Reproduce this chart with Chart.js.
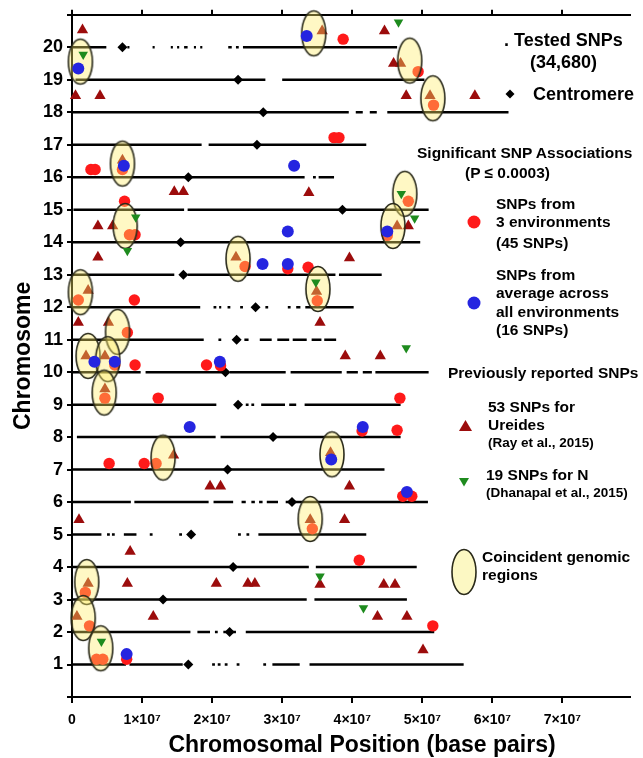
<!DOCTYPE html>
<html lang="en">
<head>
<meta charset="UTF-8">
<title>Significant SNP associations by chromosome</title>
<script src="https://cdn.jsdelivr.net/npm/chart.js"></script>
<style>
  body { margin: 0; background: #fff; }
  .wrap { position: relative; width: 643px; height: 758px; font-family: "Liberation Sans", Arial, sans-serif; font-weight: bold; color: #000; }
  #snpChart { position: absolute; left: 0; top: 0; }
  .lg { position: absolute; white-space: nowrap; line-height: 1; }
  .f18 { font-size: 18px; }
  .f15 { font-size: 15.5px; }
  .f13 { font-size: 13.5px; }
  .xtitle { position: absolute; left: 0; width: 724px; top: 733px; text-align: center; font-size: 23px; line-height: 1; white-space: nowrap; }
  svg.keys { position: absolute; left: 0; top: 0; pointer-events: none; }
</style>
</head>
<body>
<div class="wrap">
  <canvas id="snpChart" width="643" height="758"></canvas>

  <div class="xtitle">Chromosomal Position (base pairs)</div>

  <div class="lg f18" style="left:504px; top:31px;">. Tested SNPs</div>
  <div class="lg f18" style="left:530px; top:53px;">(34,680)</div>
  <div class="lg f18" style="left:533px; top:85px;">Centromere</div>

  <div class="lg f15" style="left:417px; top:145px;">Significant SNP Associations</div>
  <div class="lg f15" style="left:465px; top:165px;">(P &le; 0.0003)</div>

  <div class="lg f15" style="left:496px; top:196px;">SNPs from</div>
  <div class="lg f15" style="left:496px; top:214px;">3 environments</div>
  <div class="lg f15" style="left:496px; top:235px;">(45 SNPs)</div>

  <div class="lg f15" style="left:496px; top:267px;">SNPs from</div>
  <div class="lg f15" style="left:496px; top:285px;">average across</div>
  <div class="lg f15" style="left:496px; top:304px;">all environments</div>
  <div class="lg f15" style="left:496px; top:322px;">(16 SNPs)</div>

  <div class="lg f15" style="left:448px; top:365px;">Previously reported SNPs</div>

  <div class="lg f15" style="left:488px; top:399px;">53 SNPs for</div>
  <div class="lg f15" style="left:488px; top:417px;">Ureides</div>
  <div class="lg f13" style="left:488px; top:436px;">(Ray et al., 2015)</div>

  <div class="lg f15" style="left:486px; top:467px;">19 SNPs for N</div>
  <div class="lg f13" style="left:486px; top:486px;">(Dhanapal et al., 2015)</div>

  <div class="lg f15" style="left:482px; top:549px;">Coincident genomic</div>
  <div class="lg f15" style="left:482px; top:567px;">regions</div>

  <svg class="keys" width="643" height="758">
    <polygon points="510,89.5 514.5,94 510,98.5 505.5,94" fill="#000"/>
    <circle cx="474" cy="222" r="6.5" fill="#ff1a1a"/>
    <circle cx="474" cy="303" r="6.5" fill="#2525e0"/>
    <polygon points="465.5,420 472,431 459,431" fill="#9c0c0c"/>
    <polygon points="459,478 469,478 464,486.5" fill="#1e8b1e"/>
    <ellipse cx="464" cy="572" rx="12" ry="22.5" fill="#fcf8c3" stroke="#2a2a1a" stroke-width="1.6"/>
  </svg>
</div>

<script>
  // positions in Mb, y = chromosome (marks sit slightly above their chromosome line)
  const chromosomes = [1, 2, 3, 4, 5, 6, 7, 8, 9, 10, 11, 12, 13, 14, 15, 16, 17, 18, 19, 20];

  // stretches covered by tested SNPs, per chromosome (Mb)
  const testedSegments = [
    [[0, 7.7], [8.2, 15.8], [20, 20.4], [20.8, 21.2], [21.8, 22.2], [23.5, 23.9], [27.3, 27.7], [28.6, 32.5], [33.9, 55.9]],
    [[0, 16.9], [17.9, 19.7], [20.4, 20.8], [21.6, 22.2], [22.8, 23.4], [24.8, 51.7]],
    [[0, 33.5], [34.6, 47.8]],
    [[0, 33.8], [34.8, 49.2]],
    [[0, 4.2], [5, 5.4], [5.7, 6.1], [7.4, 9.2], [11.1, 11.5], [15.3, 15.7], [23.7, 24.1], [24.9, 25.3], [26.6, 42]],
    [[0, 8.4], [8.9, 19.5], [20.2, 23], [24.2, 24.8], [25.6, 26.1], [26.7, 27.2], [27.8, 29.4], [30.5, 50.8]],
    [[0, 44.6]],
    [[0.7, 20.5], [21.2, 46.9]],
    [[0, 20.6], [24.8, 25.2], [25.6, 26], [27, 30.4], [31, 32], [33.2, 46.9]],
    [[0, 9.8], [10.5, 21.5], [22.5, 30.5], [31.2, 38.5], [39.2, 40.8], [41.5, 42.8], [43.3, 50.9]],
    [[0, 18.8], [20.9, 21.3], [24.6, 25.2], [26.8, 28.5], [29.3, 31], [31.5, 33.5], [34.2, 35.6], [36, 37.7]],
    [[0, 18.3], [20.2, 20.6], [21, 21.3], [22.2, 22.6], [24, 24.4], [27.6, 28], [30.8, 31.2], [32, 32.6], [33.3, 40.2]],
    [[0, 14.6], [16.5, 37.6], [38.1, 44.2]],
    [[0, 49.7]],
    [[0.2, 16], [16.5, 50.9]],
    [[0, 33.2], [34.4, 34.8], [35.2, 37.4]],
    [[0, 18.5], [19.5, 42]],
    [[0, 39.5], [40.5, 41.5], [42.5, 43.5], [45, 62.3]],
    [[0.5, 27.6], [30, 50.3]],
    [[0, 4.9], [7.9, 8.2], [11.5, 11.8], [14.1, 14.4], [15, 15.3], [16, 16.5], [17.4, 17.7], [18.3, 18.6], [22.3, 22.8], [23.4, 23.8], [24.4, 46.4]]
  ];

  const centromereMb = [16.6, 22.5, 13.0, 23.0, 17.0, 31.4, 22.2, 28.7, 23.7, 21.9, 23.5, 26.2, 15.9, 15.5, 38.6, 16.6, 26.4, 27.3, 23.7, 7.2];

  // SNPs from 3 environments [Mb, y]
  const env3Snps = [
    [2.7, 16.24], [3.3, 16.24], [7.2, 16.24], [7.5, 15.26], [8.2, 14.23], [9.0, 14.23], [24.7, 13.25], [30.8, 13.18],
    [0.9, 12.22], [8.9, 12.22], [7.9, 11.22], [6.1, 10.22], [9.0, 10.22], [19.2, 10.22], [21.2, 10.2], [4.7, 9.2],
    [12.3, 9.2], [5.3, 7.19], [10.3, 7.19], [12.0, 7.19], [1.9, 3.22], [2.5, 2.19], [3.5, 1.16], [4.4, 1.16], [7.8, 1.16],
    [38.7, 20.25], [49.4, 19.25], [51.6, 18.22], [37.4, 17.22], [38.1, 17.22], [48.0, 15.26], [45.0, 14.21], [33.7, 13.23],
    [35.0, 12.2], [46.8, 9.2], [41.4, 8.19], [46.4, 8.21], [47.2, 6.18], [48.5, 6.18], [34.3, 5.18], [41.0, 4.21], [51.5, 2.19]
  ];

  // SNPs from the average across all environments [Mb, y]
  const avgSnps = [
    [0.9, 19.35], [7.4, 16.35], [31.7, 16.35], [30.8, 14.33], [27.2, 13.33], [30.8, 13.33], [33.5, 20.35], [45.0, 14.33],
    [3.2, 10.32], [6.1, 10.32], [21.1, 10.32], [16.8, 8.31], [7.8, 1.32], [41.5, 8.31], [37.0, 7.31], [47.8, 6.31]
  ];

  // previously reported: ureides (Ray et al., 2015) [Mb, y]
  const ureideSnps = [
    [1.5, 20.53], [0.5, 18.51], [4.0, 18.51], [7.2, 16.52], [14.6, 15.55], [15.9, 15.55], [3.7, 14.5], [5.8, 14.5],
    [3.7, 13.54], [23.4, 13.54], [2.3, 12.51], [0.9, 11.53], [5.2, 11.53], [2.0, 10.5], [4.7, 10.5], [4.7, 9.48],
    [14.5, 7.44], [19.7, 6.49], [21.2, 6.49], [1.0, 5.46], [8.3, 4.48], [2.3, 3.49], [7.9, 3.49], [20.6, 3.49],
    [25.1, 3.49], [26.1, 3.49], [0.7, 2.48], [11.6, 2.48], [35.7, 20.5], [44.6, 20.5], [45.9, 19.5], [46.9, 19.5],
    [47.7, 18.51], [51.1, 18.51], [57.5, 18.51], [33.8, 15.52], [46.4, 14.5], [48.0, 14.5], [39.6, 13.51], [34.9, 12.48],
    [35.4, 11.53], [39.0, 10.5], [44.0, 10.5], [36.9, 7.52], [39.6, 6.49], [34.0, 5.46], [38.9, 5.46], [35.4, 3.46],
    [44.5, 3.46], [46.1, 3.46], [43.6, 2.48], [47.8, 2.48], [50.1, 1.45]
  ];

  // previously reported: N (Dhanapal et al., 2015) [Mb, y]
  const nitrogenSnps = [
    [1.6, 19.78], [9.1, 14.77], [7.9, 13.74], [4.2, 1.71], [46.6, 20.77], [47.0, 15.49], [48.9, 14.74], [34.8, 12.77],
    [47.7, 10.74], [35.4, 3.72], [41.6, 2.74]
  ];

  // coincident genomic regions, ellipse centres [Mb, y]
  const coincidentRegions = [
    [1.2, 19.56], [34.5, 20.43], [48.2, 19.59], [51.5, 18.43], [7.2, 16.42], [7.6, 14.5], [47.5, 15.49], [45.8, 14.5],
    [23.7, 13.49], [1.2, 12.46], [35.1, 12.56], [6.5, 11.24], [2.3, 10.5], [5.1, 10.4], [4.6, 9.37], [13.0, 7.37],
    [37.1, 7.47], [34.0, 5.48], [2.1, 3.54], [1.6, 2.43], [4.1, 1.5]
  ];

  const xTicks = [0, 1e7, 2e7, 3e7, 4e7, 5e7, 6e7, 7e7];

  const MB = 1e6;
  const X_MAX = 7.964e7;
  const FONT = '"Liberation Sans", Arial, sans-serif';

  const toPoints = arr => arr.map(p => ({ x: p[0] * MB, y: p[1] }));

  const linePoints = [];
  testedSegments.forEach((segs, i) => {
    segs.forEach(s => {
      linePoints.push({ x: s[0] * MB, y: chromosomes[i] });
      linePoints.push({ x: s[1] * MB, y: chromosomes[i] });
      linePoints.push({ x: s[1] * MB, y: null });
    });
  });

  const centromerePoints = centromereMb.map((c, i) => ({ x: c * MB, y: chromosomes[i] }));

  function ellipseImage() {
    const c = document.createElement('canvas');
    c.width = 28;
    c.height = 50;
    const g = c.getContext('2d');
    g.beginPath();
    g.ellipse(14, 25, 12, 22.5, 0, 0, 2 * Math.PI);
    g.fillStyle = 'rgba(255,237,102,0.39)';
    g.fill();
    g.lineWidth = 1.6;
    g.strokeStyle = '#2a2a1a';
    g.stroke();
    return c;
  }

  const keepTicks = scale => {
    scale.ticks = xTicks.map(v => ({ value: v }));
  };

  const ctx = document.getElementById('snpChart').getContext('2d');

  new Chart(ctx, {
    type: 'scatter',
    data: {
      datasets: [
        {
          label: 'N (Dhanapal et al., 2015)',
          data: toPoints(nitrogenSnps),
          pointStyle: 'triangle', rotation: 180, pointRadius: 5.5,
          backgroundColor: '#1e8b1e', borderWidth: 0, order: 0, clip: false
        },
        {
          label: 'Average across all environments',
          data: toPoints(avgSnps),
          pointStyle: 'circle', pointRadius: 6,
          backgroundColor: '#2525e0', borderWidth: 0, order: 1, clip: false
        },
        {
          label: 'Coincident genomic regions',
          data: toPoints(coincidentRegions),
          pointStyle: ellipseImage(), pointRadius: 12,
          order: 2, clip: false
        },
        {
          label: 'Ureides (Ray et al., 2015)',
          data: toPoints(ureideSnps),
          pointStyle: 'triangle', pointRadius: 6.5,
          backgroundColor: '#9c0c0c', borderWidth: 0, order: 3, clip: false
        },
        {
          label: '3 environments',
          data: toPoints(env3Snps),
          pointStyle: 'circle', pointRadius: 5.7,
          backgroundColor: '#ff1a1a', borderWidth: 0, order: 4, clip: false
        },
        {
          label: 'Centromere',
          data: centromerePoints,
          pointStyle: 'rectRot', pointRadius: 5,
          backgroundColor: '#000', borderWidth: 0, order: 5, clip: false
        },
        {
          label: 'Tested SNPs',
          data: linePoints,
          showLine: true, spanGaps: false, pointRadius: 0,
          borderColor: '#000', borderWidth: 2.5, borderCapStyle: 'butt',
          order: 6
        }
      ]
    },
    options: {
      responsive: false,
      animation: false,
      layout: { padding: 0 },
      plugins: { legend: { display: false }, tooltip: { enabled: false } },
      scales: {
        x: {
          type: 'linear', position: 'bottom', min: 0, max: X_MAX,
          afterBuildTicks: keepTicks,
          ticks: {
            padding: 9, color: '#000', maxRotation: 0, autoSkip: false,
            font: { family: FONT, size: 14, weight: 'bold' },
            callback: v => v === 0 ? '0' : (v / 1e7) + '×10⁷'
          },
          grid: { drawOnChartArea: false, drawTicks: true, tickLength: 6, color: '#000', lineWidth: 2 },
          border: { display: true, color: '#000', width: 2 },
          afterFit: s => { s.height = 61; }
        },
        xTop: {
          type: 'linear', position: 'top', min: 0, max: X_MAX,
          afterBuildTicks: keepTicks,
          ticks: { display: false },
          grid: { drawOnChartArea: false, drawTicks: true, tickLength: 5, color: '#000', lineWidth: 2 },
          border: { display: true, color: '#000', width: 2 },
          afterFit: s => { s.height = 14; }
        },
        y: {
          type: 'linear', min: 0, max: 21,
          ticks: {
            stepSize: 1, padding: 4, color: '#000',
            font: { family: FONT, size: 18, weight: 'bold' },
            callback: v => (v >= 1 && v <= 20) ? v : ''
          },
          grid: { drawOnChartArea: false, drawTicks: true, tickLength: 5, color: '#000', lineWidth: 2 },
          border: { display: true, color: '#000', width: 2 },
          title: {
            display: true, text: 'Chromosome', color: '#000',
            font: { family: FONT, size: 23, weight: 'bold' }, padding: { top: 10, bottom: 0 }
          },
          afterFit: s => { s.width = 72; }
        }
      }
    }
  });
</script>
</body>
</html>
